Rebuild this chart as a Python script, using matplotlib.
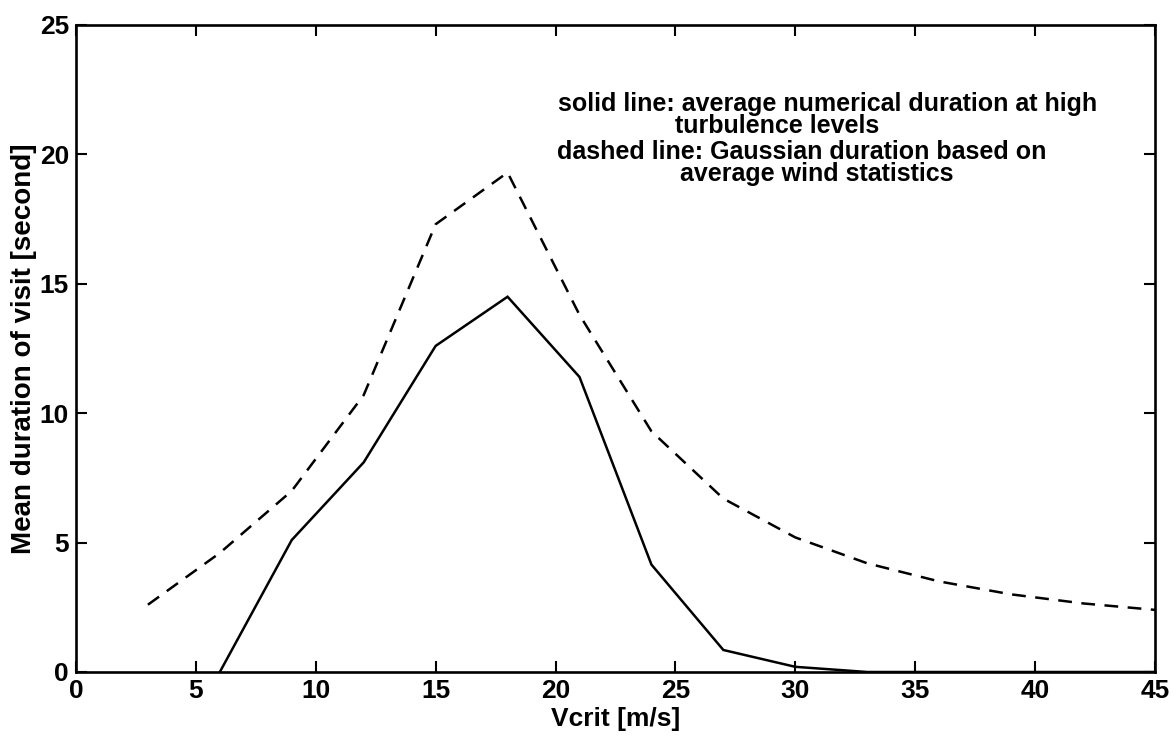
import matplotlib
matplotlib.use("Agg")
import matplotlib.pyplot as plt

plt.rcParams['font.family'] = ['Liberation Sans', 'DejaVu Sans']
plt.rcParams['font.weight'] = 'bold'

# Data
vcrit_solid = [6, 9, 12, 15, 18, 21, 24, 27, 30, 33, 36, 39, 42, 45]
duration_solid = [0.0, 5.1, 8.1, 12.6, 14.5, 11.4, 4.15, 0.85, 0.2, 0.0, 0.0, 0.0, 0.0, 0.0]

vcrit_dashed = [3, 6, 9, 12, 15, 18, 21, 24, 27, 30, 33, 36, 39, 42, 45]
duration_dashed = [2.6, 4.6, 7.0, 10.7, 17.3, 19.3, 13.8, 9.3, 6.7, 5.2, 4.2, 3.5, 3.0, 2.65, 2.4]

xticks = [0, 5, 10, 15, 20, 25, 30, 35, 40, 45]
yticks = [0, 5, 10, 15, 20, 25]

annotation_lines = [
    "solid line: average numerical duration at high",
    "turbulence levels",
    "dashed line: Gaussian duration based on",
    "average wind statistics",
]

fig = plt.figure(figsize=(11.76, 7.46), dpi=100)
ax = fig.add_axes([0.0646, 0.0992, 0.9175, 0.8673])

ax.plot(vcrit_solid, duration_solid, color='black', linewidth=1.8, solid_joinstyle='miter')
ax.plot(vcrit_dashed, duration_dashed, color='black', linewidth=1.8, linestyle=(0, (5.5, 3.8)))

ax.set_xlim(0, 45)
ax.set_ylim(0, 25)
ax.set_xticks(xticks)
ax.set_yticks(yticks)
ax.tick_params(direction='in', length=8, width=1.5, top=True, right=True,
               labelsize=19, pad=5)
for s in ax.spines.values():
    s.set_linewidth(1.9)

ax.set_xlabel("Vcrit [m/s]", fontsize=19, fontweight='bold', labelpad=3)
ax.set_ylabel("Mean duration of visit [second]", fontsize=20, fontweight='bold', labelpad=2)

text_pos = [(20.1, 21.95), (25.0, 21.1), (20.05, 20.1), (25.2, 19.25)]
for (tx, ty), line in zip(text_pos, annotation_lines):
    ax.text(tx, ty, line, fontsize=18, fontweight='bold', ha='left', va='center')

fig.savefig("out.png", dpi=100)
